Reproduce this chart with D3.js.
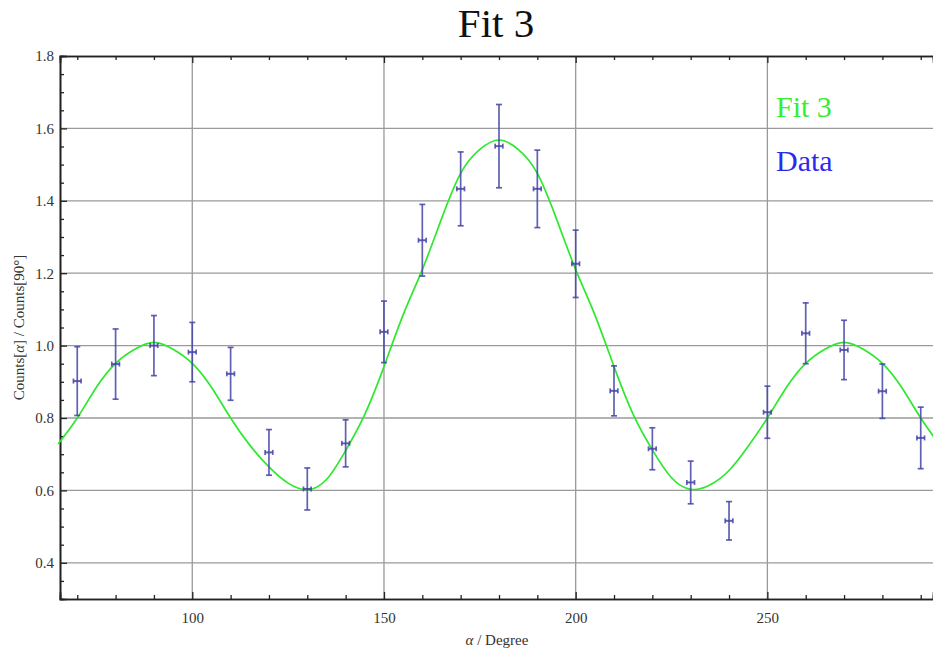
<!DOCTYPE html>
<html><head><meta charset="utf-8">
<script src="https://cdn.jsdelivr.net/npm/d3@7/dist/d3.min.js"></script>
<style>
html,body{margin:0;padding:0;background:#fff;}
svg{display:block;}
svg text{font-family:"Liberation Serif","DejaVu Serif",serif;}
</style></head>
<body>
<script>
// ---- data ----
const angles = [70,80,90,100,110,120,130,140,150,160,170,180,190,200,210,220,230,240,250,260,270,280,290];
const ratio  = [0.902,0.949,1.000,0.982,0.922,0.705,0.604,0.730,1.038,1.291,1.433,1.551,1.433,1.226,0.875,0.715,0.622,0.516,0.816,1.034,0.988,0.874,0.745];
const ratioErr = [0.095,0.097,0.083,0.082,0.073,0.063,0.058,0.065,0.085,0.099,0.102,0.115,0.107,0.093,0.069,0.058,0.059,0.053,0.072,0.084,0.082,0.075,0.085];
const angleErr = [1,1,1,1,1,1,1,1,1,1,1,1,1,1,1,1,1,1,1,1,1,1,1];

// fit curve
const fitAngles = [65,70,75,80,85,90,95,100,105,110,115,120,125,130,135,140,145,150,155,160,165,170,175,180,185,190,195,200,205,210,215,220,225,230,235,240,245,250,255,260,265,270,275,280,285,290,295];
const fitValues = [0.728,0.800,0.885,0.951,0.990,1.009,0.990,0.951,0.885,0.800,0.725,0.665,0.620,0.602,0.630,0.710,0.810,0.942,1.085,1.210,1.350,1.476,1.542,1.568,1.542,1.476,1.350,1.210,1.085,0.942,0.810,0.712,0.635,0.603,0.615,0.655,0.722,0.800,0.885,0.951,0.990,1.009,0.990,0.951,0.885,0.800,0.725];

const xMajor = [100,150,200,250];
const yMajor = [0.4,0.6,0.8,1.0,1.2,1.4,1.6,1.8];
const chartTitle = "Fit 3";
const legendLabels = ["Fit 3","Data"];

// ---- layout ----
const SERIF = "'Liberation Serif', 'DejaVu Serif', serif";
const W = 933, H = 655;
const PL = 60, PR = 933, PT = 56, PB = 599;
const x = d3.scaleLinear().domain([65.5, 293.2]).range([PL, PR]);
const y = d3.scaleLinear().domain([0.3, 1.8]).range([PB, PT]);

const svg = d3.select("body").append("svg").attr("width", W).attr("height", H)
  .attr("font-family", SERIF);

// grid
const grid = svg.append("g").attr("stroke", "#9a9a9a").attr("stroke-width", 1.3);
grid.selectAll("line.v").data(xMajor).join("line").attr("class", "v")
  .attr("x1", d => x(d)).attr("x2", d => x(d)).attr("y1", PT).attr("y2", PB);
grid.selectAll("line.h").data(yMajor.filter(v => v < 1.8)).join("line").attr("class", "h")
  .attr("y1", d => y(d)).attr("y2", d => y(d)).attr("x1", PL).attr("x2", PR);

// axes (ticks inside)
const xMinor = d3.range(70, 293, 10).filter(v => !xMajor.includes(v));
const yMinor = d3.range(0.35, 1.8, 0.05).map(v => +v.toFixed(2)).filter(v => !yMajor.some(m => Math.abs(m - v) < 1e-6));

const gBottom = svg.append("g").attr("transform", `translate(0,${PB})`)
  .call(d3.axisBottom(x).tickValues(xMajor).tickSize(-7).tickPadding(13).tickFormat(d3.format("d")));
const gBottomMinor = svg.append("g").attr("transform", `translate(0,${PB})`)
  .call(d3.axisBottom(x).tickValues(xMinor).tickSize(-4).tickFormat(""));
const gTop = svg.append("g").attr("transform", `translate(0,${PT})`)
  .call(d3.axisTop(x).tickValues(xMajor).tickSize(-7).tickFormat(""));
const gTopMinor = svg.append("g").attr("transform", `translate(0,${PT})`)
  .call(d3.axisTop(x).tickValues(xMinor).tickSize(-4).tickFormat(""));
const gLeft = svg.append("g").attr("transform", `translate(${PL},0)`)
  .call(d3.axisLeft(y).tickValues(yMajor).tickSize(-7).tickPadding(6).tickFormat(d3.format(".1f")));
const gLeftMinor = svg.append("g").attr("transform", `translate(${PL},0)`)
  .call(d3.axisLeft(y).tickValues(yMinor).tickSize(-4).tickFormat(""));

[gBottom, gBottomMinor, gTop, gTopMinor, gLeft, gLeftMinor].forEach(g => {
  g.attr("font-family", SERIF);
  g.select(".domain").attr("stroke", "#222").attr("stroke-width", 1.6);
  g.selectAll(".tick line").attr("stroke", "#222").attr("stroke-width", 1.3);
  g.selectAll(".tick text").attr("fill", "#333").attr("font-size", 15).attr("font-family", SERIF);
});

// fit curve
svg.append("path")
  .datum(fitAngles.map((a, i) => [a, fitValues[i]]))
  .attr("fill", "none").attr("stroke", "#2ee82e").attr("stroke-width", 1.7)
  .attr("d", d3.line().x(d => x(d[0])).y(d => y(d[1])).curve(d3.curveNatural));

// data with error bars
const pts = angles.map((a, i) => ({a, v: ratio[i], e: ratioErr[i], ex: angleErr[i]}));
const eb = svg.append("g").attr("stroke", "#4444a8").attr("stroke-width", 1.7).attr("stroke-opacity", 0.85).attr("fill", "none");
const gp = eb.selectAll("g").data(pts).join("g");
gp.append("line").attr("x1", d => x(d.a)).attr("x2", d => x(d.a)).attr("y1", d => y(d.v - d.e)).attr("y2", d => y(d.v + d.e));
gp.append("line").attr("x1", d => x(d.a) - 3).attr("x2", d => x(d.a) + 3).attr("y1", d => y(d.v + d.e)).attr("y2", d => y(d.v + d.e));
gp.append("line").attr("x1", d => x(d.a) - 3).attr("x2", d => x(d.a) + 3).attr("y1", d => y(d.v - d.e)).attr("y2", d => y(d.v - d.e));
gp.append("line").attr("x1", d => x(d.a - d.ex)).attr("x2", d => x(d.a + d.ex)).attr("y1", d => y(d.v)).attr("y2", d => y(d.v)).attr("stroke-width", 2);
gp.append("line").attr("x1", d => x(d.a - d.ex)).attr("x2", d => x(d.a - d.ex)).attr("y1", d => y(d.v) - 2.5).attr("y2", d => y(d.v) + 2.5);
gp.append("line").attr("x1", d => x(d.a + d.ex)).attr("x2", d => x(d.a + d.ex)).attr("y1", d => y(d.v) - 2.5).attr("y2", d => y(d.v) + 2.5);

// title
svg.append("text").attr("x", 496).attr("y", 37).attr("text-anchor", "middle")
  .attr("font-family", SERIF).attr("font-size", 41).attr("fill", "#111").text(chartTitle);

// legend
svg.append("text").attr("x", 776).attr("y", 117).attr("font-family", SERIF).attr("font-size", 30).attr("fill", "#33ee33").text(legendLabels[0]);
svg.append("text").attr("x", 776).attr("y", 171).attr("font-family", SERIF).attr("font-size", 30).attr("fill", "#2a2aee").text(legendLabels[1]);

// axis labels
const xl = svg.append("text").attr("x", 497).attr("y", 645).attr("text-anchor", "middle")
  .attr("font-family", SERIF).attr("font-size", 15).attr("fill", "#333");
xl.append("tspan").attr("font-style", "italic").text("α");
xl.append("tspan").text(" / Degree");

const yl = svg.append("text").attr("transform", `translate(24,${(PT + PB) / 2}) rotate(-90)`).attr("text-anchor", "middle")
  .attr("font-family", SERIF).attr("font-size", 15).attr("fill", "#333");
yl.append("tspan").text("Counts[");
yl.append("tspan").attr("font-style", "italic").text("α");
yl.append("tspan").text("] / Counts[90°]");
</script>
</body></html>
